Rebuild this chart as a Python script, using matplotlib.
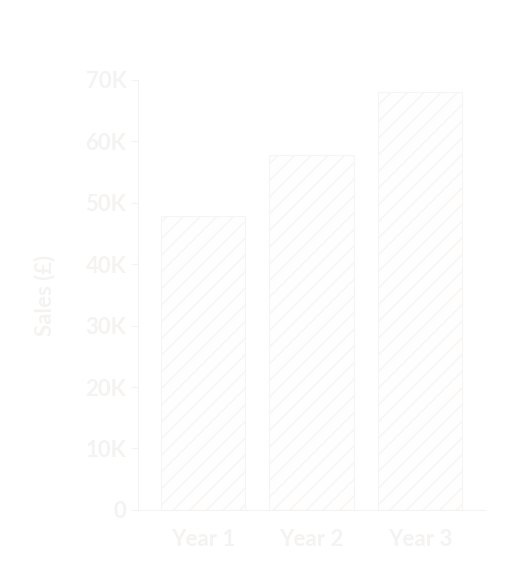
import matplotlib
matplotlib.use("Agg")
import matplotlib.pyplot as plt

years = ["Year 1", "Year 2", "Year 3"]
sales = [47800, 57800, 68000]
ticks = [0, 10000, 20000, 30000, 40000, 50000, 60000, 70000]
tick_labels = ["0", "10K", "20K", "30K", "40K", "50K", "60K", "70K"]

text_color = "#f5f3f1"
plt.rcParams["font.family"] = ["Lato", "DejaVu Sans"]
plt.rcParams["hatch.color"] = "#faf9f8"
fig = plt.figure(figsize=(5.12, 5.71), dpi=100)
ax = fig.add_axes([0.27, 0.107, 0.677, 0.753])
ax.bar(range(len(years)), sales, width=0.78, color="#fefefe",
       edgecolor="#f7f5f3", linewidth=0.8, hatch="//")
ax.set_xlim(-0.6, 2.6)
ax.set_ylim(0, 70000)
ax.set_yticks(ticks)
ax.set_yticklabels(tick_labels)
ax.set_xticks(range(len(years)))
ax.set_xticklabels(years)
ax.tick_params(colors=text_color, labelcolor=text_color, labelsize=16, length=5)
ax.tick_params(axis="x", length=0, pad=14)
for lbl in ax.get_xticklabels() + ax.get_yticklabels():
    lbl.set_fontweight("bold")
ax.set_ylabel("Sales (£)", color=text_color, fontsize=16, fontweight="bold", labelpad=22)
for side in ["top", "right"]:
    ax.spines[side].set_visible(False)
for side in ["left", "bottom"]:
    ax.spines[side].set_color(text_color)
fig.savefig("out.png", dpi=100, facecolor="white")
